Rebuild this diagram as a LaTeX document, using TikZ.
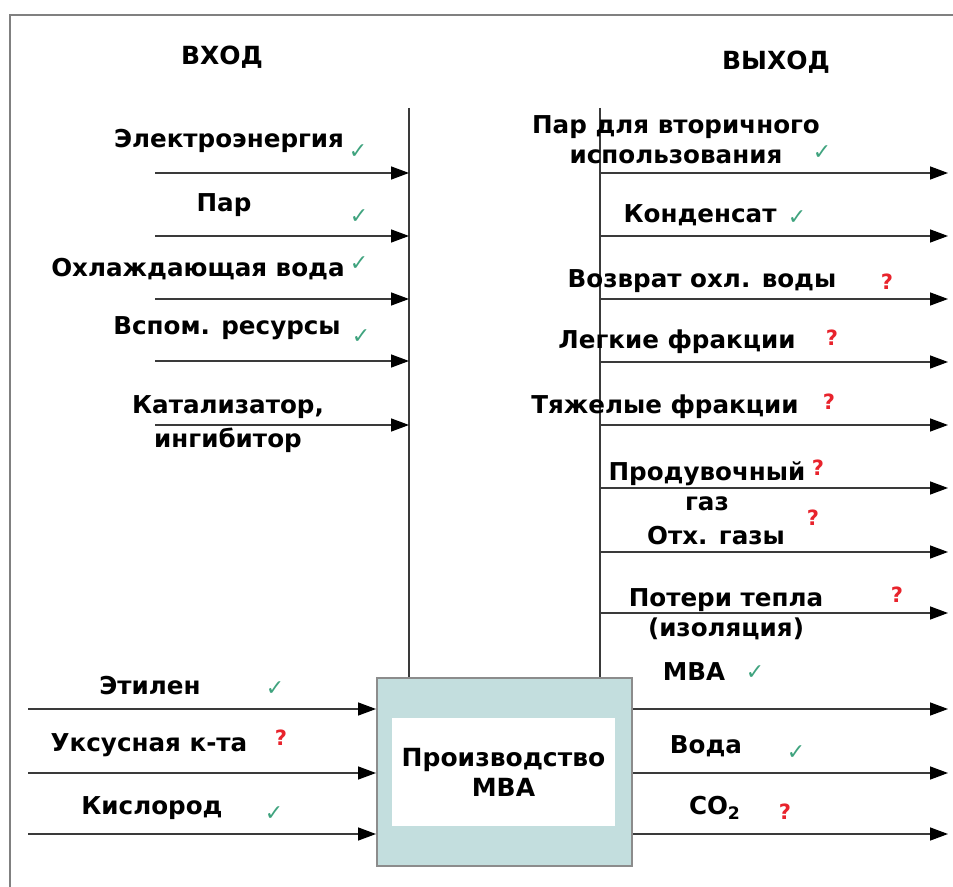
\documentclass[tikz,border=0pt]{standalone}
\usepackage{fontspec}
\setmainfont{DejaVu Sans}
\usepackage{tikz}
\usetikzlibrary{arrows.meta,positioning,calc}
\definecolor{myteal}{HTML}{C3DEDE}
\definecolor{mygreen}{HTML}{3FA37E}
\definecolor{myred}{HTML}{E8232C}
\definecolor{myline}{HTML}{3A3A3A}
\tikzset{
  lab/.style={font=\fontsize{12.3}{15}\selectfont\bfseries, align=center, inner sep=1pt},
  head/.style={lab, font=\fontsize{12.5}{15}\selectfont\bfseries},
  okm/.style={font=\fontsize{11}{12}\selectfont\bfseries, text=mygreen, inner sep=0pt},
  qm/.style={font=\fontsize{10.5}{12}\selectfont\bfseries, text=myred, inner sep=0pt},
  arr/.style={-{Triangle[length=9pt,width=6.5pt,black]}, line width=0.75pt, draw=myline},
  bus/.style={line width=0.6pt, draw=myline},
  procbox/.style={draw=black!45, line width=1pt, fill=myteal, minimum width=127.5pt, minimum height=94pt},
  innerbox/.style={fill=white, minimum width=111.5pt, minimum height=54pt, align=center,
              font=\fontsize{12.5}{15}\selectfont\bfseries},
}
\begin{document}
\begin{tikzpicture}[x=0.5pt,y=-0.5pt]
    \useasboundingbox (0,0) rectangle (953,887);
    \draw[black!50, line width=1.2pt] (10,887) -- (10,15) -- (953,15);
    % headings
    \node[head] (hin) at (222,57) {ВХОД};
    \node[head] (hout) at (776,62) {ВЫХОД};
    % process block
    \node[procbox] (proc) at (504.5,772) {};
    \node[innerbox] (core) at (503.5,772) {Производство\\МВА};
    \coordinate (lt) at (409,108); \coordinate (rt) at (600,108);
    \draw[bus] (lt) -- (lt |- proc.north); \draw[bus] (rt) -- (rt |- proc.north);
    % utilities in
    \coordinate (a1) at (155,173); \coordinate (a2) at (155,236); \coordinate (a3) at (155,299);
    \coordinate (a4) at (155,361); \coordinate (a5) at (155,425);
    \draw[arr] (a1) -- (a1 -| lt); \draw[arr] (a2) -- (a2 -| lt); \draw[arr] (a3) -- (a3 -| lt);
    \draw[arr] (a4) -- (a4 -| lt); \draw[arr] (a5) -- (a5 -| lt);
    \node[lab] (elec) at (229,141) {Электроэнергия}; \node[okm] (k1) at (358,152) {✓};
    \node[lab] (steam) at (224,205) {Пар}; \node[okm] (k2) at (359,217) {✓};
    \node[lab] (cool) at (198,269) {Охлаждающая вода}; \node[okm] (k3) at (359,264) {✓};
    \node[lab] (aux) at (227,328) {Вспом. ресурсы}; \node[okm] (k4) at (361,337) {✓};
    \node[lab] (cat) at (228,424) {Катализатор,\\[2pt]ингибитор};
    % utilities out
    \coordinate (b1) at (948,173); \coordinate (b2) at (948,236); \coordinate (b3) at (948,299);
    \coordinate (b4) at (948,362); \coordinate (b5) at (948,425); \coordinate (b6) at (948,488);
    \coordinate (b7) at (948,552); \coordinate (b8) at (948,613);
    \draw[arr] (b1 -| rt) -- (b1); \draw[arr] (b2 -| rt) -- (b2); \draw[arr] (b3 -| rt) -- (b3);
    \draw[arr] (b4 -| rt) -- (b4); \draw[arr] (b5 -| rt) -- (b5); \draw[arr] (b6 -| rt) -- (b6);
    \draw[arr] (b7 -| rt) -- (b7); \draw[arr] (b8 -| rt) -- (b8);
    \node[lab] (vap) at (676,140) {Пар для вторичного\\использования}; \node[okm] (k5) at (822,153) {✓};
    \node[lab] (cond) at (700,215) {Конденсат}; \node[okm] (k6) at (797,218) {✓};
    \node[lab] (ret) at (702,281) {Возврат охл. воды}; \node[qm] (q1) at (887,282) {?};
    \node[lab] (light) at (677,342) {Легкие фракции}; \node[qm] (q2) at (832,338) {?};
    \node[lab] (heavy) at (665,407) {Тяжелые фракции}; \node[qm] (q3) at (829,402) {?};
    \node[lab] (purge) at (707,486) {Продувочный\\газ}; \node[qm] (q4) at (818,468) {?};
    \node[lab] (off) at (716,536) {Отх. газы}; \node[qm] (q5) at (813,518) {?};
    \node[lab] (loss) at (726,614) {Потери тепла\\(изоляция)}; \node[qm] (q6) at (897,595) {?};
    % raw materials in
    \coordinate (c1) at (28,709); \coordinate (c2) at (28,773); \coordinate (c3) at (28,834);
    \draw[arr] (c1) -- (c1 -| proc.west); \draw[arr] (c2) -- (c2 -| proc.west); \draw[arr] (c3) -- (c3 -| proc.west);
    \node[lab] (eth) at (150,686) {Этилен}; \node[okm] (k7) at (275,689) {✓};
    \node[lab] (acid) at (149,745) {Уксусная к-та}; \node[qm] (q7) at (281,738) {?};
    \node[lab] (oxy) at (152,808) {Кислород}; \node[okm] (k8) at (274,814) {✓};
    % products out
    \coordinate (d1) at (948,709); \coordinate (d2) at (948,773); \coordinate (d3) at (948,834);
    \draw[arr] (proc.east |- d1) -- (d1); \draw[arr] (proc.east |- d2) -- (d2); \draw[arr] (proc.east |- d3) -- (d3);
    \node[lab] (mva) at (694,672) {МВА}; \node[okm] (k9) at (755,673) {✓};
    \node[lab] (water) at (706,746) {Вода}; \node[okm] (k10) at (796,753) {✓};
    \node[lab] (co2) at (715,808) {CO\textsubscript{2}}; \node[qm] (q8) at (785,812) {?};
\end{tikzpicture}
\end{document}
